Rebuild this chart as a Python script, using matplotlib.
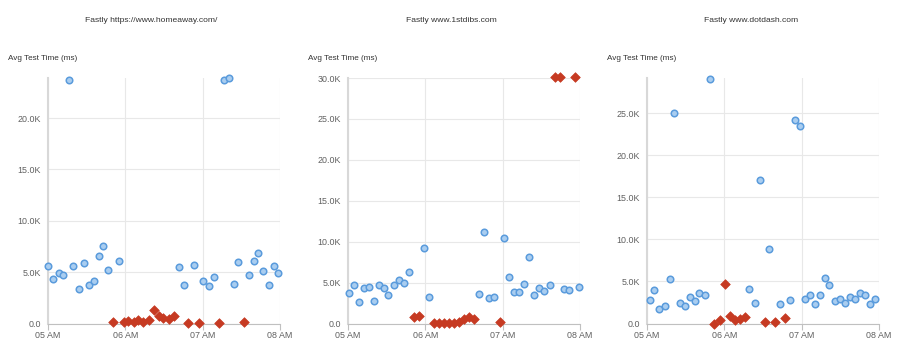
import matplotlib
matplotlib.use("Agg")
import matplotlib.pyplot as plt
from matplotlib.ticker import FuncFormatter, FixedLocator

plt.rcParams['font.family'] = ['Liberation Sans', 'DejaVu Sans']

titles = ["Fastly https://www.homeaway.com/", "Fastly www.1stdibs.com", "Fastly www.dotdash.com"]
ylabel = "Avg Test Time (ms)"
xtick_vals = [0, 60, 120, 180]
xtick_labels = ["05 AM", "06 AM", "07 AM", "08 AM"]

# minutes after 05:00, values in ms
p1_blue_t = [0, 4.1, 8.3, 11.9, 16.3, 19.6, 24.0, 27.9, 31.5, 35.4, 39.3, 42.9, 46.7, 54.8,
             101.5, 105.4, 113.2, 120.6, 124.8, 128.6, 136.4, 140.2, 144.4, 147.7, 155.7,
             159.6, 163.2, 167.1, 171.2, 175.1, 178.7]
p1_blue_v = [5580, 4350, 4870, 4770, 23700, 5580, 3310, 5880, 3700, 4160, 6590, 7560, 5160, 6040,
             5520, 3770, 5680, 4160, 3640, 4550, 23700, 23900, 3860, 5970, 4770,
             6070, 6880, 5100, 3770, 5580, 4940]
p1_red_t = [50.8, 58.6, 62.2, 66.6, 70.2, 73.9, 78.3, 81.9, 86.3, 89.6, 93.6, 97.7, 109.0, 116.8, 132.3, 151.9]
p1_red_v = [190, 160, 260, 160, 320, 100, 320, 1300, 710, 580, 420, 750, 60, 60, 60, 130]

p2_blue_t = [0.5, 4.4, 8.3, 12.2, 16.1, 19.9, 23.8, 28.0, 31.3, 35.5, 39.4, 43.5, 47.1, 58.8, 62.7,
             102.0, 105.9, 109.3, 113.2, 120.9, 124.8, 128.7, 132.9, 136.5, 140.4, 144.5,
             148.4, 152.3, 156.7, 167.6, 171.5, 179.0]
p2_blue_v = [3680, 4670, 2660, 4340, 4460, 2700, 4670, 4380, 3480, 4750, 5360, 4990, 6260, 9250, 3270,
             3600, 11170, 3150, 3230, 10480, 5730, 3810, 3810, 4830, 8150, 3440,
             4340, 3930, 4710, 4180, 4050, 4420]
p2_red_t = [51.0, 54.9, 66.6, 70.4, 74.3, 78.5, 82.4, 86.2, 89.9, 93.8, 97.6, 117.8, 160.8, 164.7, 176.4]
p2_red_v = [820, 940, 120, 120, 120, 120, 120, 200, 490, 740, 530, 160, 30170, 30170, 30170]

p3_blue_t = [2.6, 5.7, 9.6, 13.7, 17.6, 21.2, 25.3, 29.2, 33.1, 37.5, 40.6, 45.0, 48.6,
             79.4, 83.8, 87.4, 94.9, 102.9, 110.7, 114.8, 118.4, 122.8, 126.2, 130.1, 134.0,
             138.1, 141.5, 145.9, 149.7, 153.6, 157.2, 161.4, 165.2, 169.4, 172.7, 177.1]
p3_blue_v = [2760, 4030, 1740, 2050, 5250, 25040, 2490, 2130, 3160, 2690, 3590, 3360, 29100,
             4070, 2450, 17060, 8810, 2290, 2840, 24170, 23500, 2880, 3440, 2290, 3440,
             5370, 4540, 2730, 2880, 2490, 3120, 2960, 3590, 3440, 2370, 2880]
p3_red_t = [52.2, 56.4, 60.3, 64.4, 68.3, 72.2, 76.0, 91.3, 99.0, 107.1]
p3_red_v = [0, 430, 4660, 910, 430, 510, 790, 120, 160, 670]

ymaxes = [23900, 30000, 29200]
yticks = [[0, 5000, 10000, 15000, 20000],
          [0, 5000, 10000, 15000, 20000, 25000, 30000],
          [0, 5000, 10000, 15000, 20000, 25000]]

panels = [(p1_blue_t, p1_blue_v, p1_red_t, p1_red_v),
          (p2_blue_t, p2_blue_v, p2_red_t, p2_red_v),
          (p3_blue_t, p3_blue_v, p3_red_t, p3_red_v)]

W, H = 903, 352
fig = plt.figure(figsize=(W / 100, H / 100), dpi=100)

ax_left_px = [48, 348, 647]
ax_w_px = 232
ax_top_px = 78
ax_bot_px = 323.5

def kfmt(v, pos):
    if v == 0:
        return "0.0"
    return f"{v/1000:.1f}K"

for i, (bt, bv, rt, rv) in enumerate(panels):
    ax = fig.add_axes([ax_left_px[i] / W, 1 - ax_bot_px / H, ax_w_px / W, (ax_bot_px - ax_top_px) / H])
    ax.set_xlim(0, 180)
    ax.set_ylim(0, ymaxes[i])
    ax.grid(True, color='#e8e8e8', linewidth=0.8)
    ax.set_axisbelow(True)
    for s in ['top', 'right']:
        ax.spines[s].set_visible(False)
    ax.spines['left'].set_color('#d8d8d8')
    ax.spines['left'].set_linewidth(1.5)
    ax.spines['bottom'].set_color('#c0c0c0')
    ax.xaxis.set_major_locator(FixedLocator(xtick_vals))
    ax.set_xticklabels(xtick_labels)
    ax.yaxis.set_major_locator(FixedLocator(yticks[i]))
    ax.yaxis.set_major_formatter(FuncFormatter(kfmt))
    ax.tick_params(axis='y', length=0, pad=5, labelsize=6.4, labelcolor='#606060')
    ax.tick_params(axis='x', length=4, color='#c0c0c0', pad=1.5, labelsize=6.4, labelcolor='#606060')
    ax.scatter(bt, bv, s=22, marker='o', facecolor='#a9cdf0', edgecolor='#5a9bdc', linewidth=1.1,
               zorder=3, clip_on=False)
    ax.scatter(rt, rv, s=24, marker='D', facecolor='#c63a22', edgecolor='#c63a22', linewidth=0.5,
               zorder=4, clip_on=False)
    fig.text((151 + 300 * i) / W, 1 - 20 / H, titles[i], ha='center', va='center',
             fontsize=6.1, color='#333333')
    fig.text((ax_left_px[i] - 40) / W, 1 - 58 / H, ylabel, ha='left', va='center',
             fontsize=5.9, color='#333333')

fig.savefig("out.png", dpi=100)
